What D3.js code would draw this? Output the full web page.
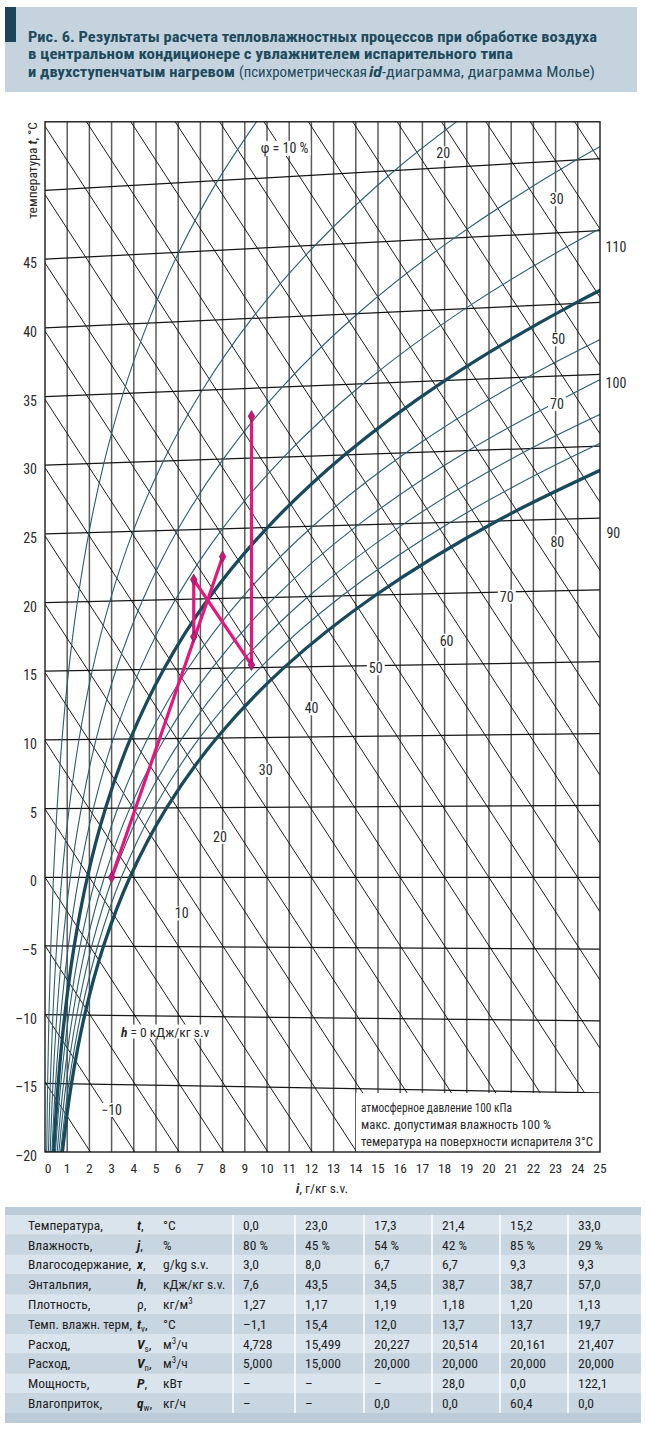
<!DOCTYPE html>
<html><head><meta charset="utf-8">
<script src="https://cdn.jsdelivr.net/npm/d3@7"></script>
<style>
body{margin:0;background:#fff;}
svg{display:block;}
text{font-family:"Liberation Sans Narrow","Roboto Condensed","Arial Narrow","DejaVu Sans Condensed",sans-serif;}
</style></head><body>
<svg id="c" width="646" height="1430"></svg>
<script>
// ---------------- data ----------------
const xTicks = [0,1,2,3,4,5,6,7,8,9,10,11,12,13,14,15,16,17,18,19,20,21,22,23,24,25];
const tTicks = [45,40,35,30,25,20,15,10,5,0,-5,-10,-15,-20];
const isotherms = [-20,-15,-10,-5,0,5,10,15,20,25,30,35,40,45,50];
const enthalpies = [-20,-15,-10,-5,0,5,10,15,20,25,30,35,40,45,50,55,60,65,70,75,80,85,90,95,100,105,110,115];
// relative-humidity curves: moisture content x (g/kg) read at t = -20 … 55 °C
const phiTemps = [-20,-15,-10,-5,0,5,10,15,20,25,30,35,40,45,50,55];
const phi10  = [0.078,0.119,0.178,0.262,0.380,0.543,0.765,1.063,1.458,1.978,2.653,3.521,4.627,6.026,7.778,9.96];
const phi20  = [0.156,0.238,0.356,0.525,0.761,1.087,1.532,2.129,2.924,3.968,5.328,7.082,9.324,12.17,15.75,20.25];
const phi30  = [0.234,0.357,0.535,0.788,1.143,1.633,2.300,3.199,4.396,5.972,8.027,10.68,14.09,18.43,23.93,30.87];
const phi40  = [0.312,0.476,0.713,1.051,1.524,2.179,3.071,4.273,5.875,7.988,10.75,14.33,18.93,24.82,32.33];
const phi50  = [0.390,0.595,0.892,1.314,1.907,2.726,3.843,5.350,7.361,10.02,13.49,18.01,23.85,31.34];
const phi60  = [0.468,0.714,1.070,1.577,2.289,3.274,4.618,6.432,8.854,12.06,16.26,21.74,28.84];
const phi70  = [0.547,0.834,1.249,1.841,2.673,3.823,5.394,7.516,10.35,14.11,19.06,25.51];
const phi80  = [0.625,0.953,1.428,2.105,3.056,4.373,6.172,8.605,11.86,16.18,21.88,29.33];
const phi90  = [0.703,1.072,1.607,2.369,3.440,4.923,6.952,9.698,13.38,18.27,24.72,33.19];
const phi100 = [0.781,1.192,1.786,2.633,3.825,5.475,7.734,10.79,14.90,20.36,27.59];
const phiLevels = [10,20,30,40,50,60,70,80,90,100];
const phiCurves = [phi10,phi20,phi30,phi40,phi50,phi60,phi70,phi80,phi90,phi100];
// process states
const procX = [3.0, 8.0, 6.7, 6.7, 9.3, 9.3];
const procT = [0.0, 23.0, 17.3, 21.4, 15.2, 33.0];
// table
const rowNames = ["Температура,","Влажность,","Влагосодержание,","Энтальпия,","Плотность,","Темп. влажн. терм,","Расход,","Расход,","Мощность,","Влагоприток,"];
const rowSym   = ["t","j","x","h","ρ","t","V","V","P","q"];
const rowSub   = ["","","","","","v","s","n","","w"];
const rowUnit  = ["°C","%","g/kg s.v.","кДж/кг s.v.","кг/м|3","°C","м|3/ч","м|3/ч","кВт","кг/ч"];
const valTemp  = ["0,0","23,0","17,3","21,4","15,2","33,0"];
const valHum   = ["80 %","45 %","54 %","42 %","85 %","29 %"];
const valX     = ["3,0","8,0","6,7","6,7","9,3","9,3"];
const valH     = ["7,6","43,5","34,5","38,7","38,7","57,0"];
const valRho   = ["1,27","1,17","1,19","1,18","1,20","1,13"];
const valTw    = ["–1,1","15,4","12,0","13,7","13,7","19,7"];
const valVs    = ["4,728","15,499","20,227","20,514","20,161","21,407"];
const valVn    = ["5,000","15,000","20,000","20,000","20,000","20,000"];
const valP     = ["–","–","–","28,0","0,0","122,1"];
const valQw    = ["–","–","0,0","0,0","60,4","0,0"];
const tableVals = [valTemp,valHum,valX,valH,valRho,valTw,valVs,valVn,valP,valQw];

// ---------------- layout ----------------
const svg = d3.select('#c');
const L=45,R=600,T=121.8,B=1152;
const xs = d3.scaleLinear().domain([0,25]).range([L,R]);
const ys = d3.scaleLinear().domain([-20.12,55.33]).range([B,T]);
// Mollier skew coordinate (kJ/kg) of a state (t, x)
const skew = (t,x) => 1.006*t + 0.00186*t*x;
const HV = 2.501;
const txt = '#2a2a2a';

// title banner
svg.append('rect').attr('x',5).attr('y',7).attr('width',632).attr('height',85).attr('fill','#c5d3de');
svg.append('rect').attr('x',5).attr('y',7).attr('width',11).attr('height',35).attr('fill','#1c4658');
const tcol = '#1e4a5d';
function tline(y, parts){
  const t = svg.append('text').attr('y',y).attr('font-size',15).attr('fill',tcol);
  parts.forEach(p=>{
    const s=t.append('tspan').text(p.t);
    if(p.x!==undefined) s.attr('x',p.x);
    if(p.len) s.attr('textLength',p.len).attr('lengthAdjust','spacingAndGlyphs');
    if(p.b) s.attr('font-weight','bold');
    if(p.i) s.attr('font-style','italic');
  });
}
tline(42,[{t:'Рис. 6. Результаты расчета тепловлажностных процессов при обработке воздуха',x:28,len:569,b:1}]);
tline(59,[{t:'в центральном кондиционере с увлажнителем испарительного типа',x:28,len:485,b:1}]);
tline(77,[{t:'и двухступенчатым нагревом',x:28,len:207,b:1},{t:'(психрометрическая',x:239,len:128},{t:'id',x:369,len:13,b:1,i:1},{t:'-диаграмма, диаграмма Молье)',x:382,len:213}]);

// clip
svg.append('clipPath').attr('id','clip').append('rect').attr('x',L).attr('y',T).attr('width',R-L).attr('height',B-T);
const g = svg.append('g').attr('clip-path','url(#clip)');

// vertical grid (moisture content)
g.selectAll('.vx').data(xTicks.slice(1,-1)).join('line')
  .attr('x1',d=>xs(d)).attr('x2',d=>xs(d)).attr('y1',T).attr('y2',B)
  .attr('stroke','#5c5c5c').attr('stroke-width',1.5);
// isotherms
g.selectAll('.it').data(isotherms).join('line')
  .attr('x1',xs(0)).attr('y1',d=>ys(skew(d,0))).attr('x2',xs(25)).attr('y2',d=>ys(skew(d,25)))
  .attr('stroke','#161616').attr('stroke-width',1.25);
// isenthalps
g.selectAll('.ih').data(enthalpies).join('line')
  .attr('x1',xs(0)).attr('y1',d=>ys(d)).attr('x2',xs(25)).attr('y2',d=>ys(d-HV*25))
  .attr('stroke','#111').attr('stroke-width',0.95);
// relative humidity curves
const lineGen = d3.line().curve(d3.curveCatmullRom.alpha(0.5));
phiCurves.forEach((arr,k)=>{
  const pts = arr.map((x,i)=>[xs(x), ys(skew(phiTemps[i],x))]);
  const thick = phiLevels[k]===50 || phiLevels[k]===100;
  g.append('path').attr('d',lineGen(pts)).attr('fill','none')
   .attr('stroke', thick ? '#194a5c' : '#2b5f70').attr('stroke-width', thick ? 3.3 : 1.1);
});

// note box
svg.append('rect').attr('x',356).attr('y',1093).attr('width',R-356).attr('height',B-1093).attr('fill','#fff');
const notes = ['атмосферное давление 100 кПа','макс. допустимая влажность 100 %','темература на поверхности испарителя 3°C'];
const noteLen = [151,190,232];
notes.forEach((s,i)=>svg.append('text').attr('x',361).attr('y',1112+i*17.2).attr('font-size',13).attr('fill',txt)
  .attr('textLength',noteLen[i]).attr('lengthAdjust','spacingAndGlyphs').text(s));

// frame
svg.append('rect').attr('x',L).attr('y',T).attr('width',R-L).attr('height',B-T).attr('fill','none').attr('stroke','#1a1a1a').attr('stroke-width',1.4);

// in-chart labels (with white backing)
const lg = svg.append('g');
function addLabel(x,y,parts,bg=true,size=14){
  const gg = lg.append('g');
  const t = gg.append('text').attr('x',xs(x)).attr('y',ys(y)).attr('text-anchor','middle').attr('dy','0.36em')
    .attr('font-size',size).attr('fill',txt);
  parts.forEach(p=>{const s=t.append('tspan').text(p.t); if(p.b) s.attr('font-weight','bold'); if(p.i) s.attr('font-style','italic');});
  if(bg){const bb=t.node().getBBox(); gg.insert('rect','text').attr('x',bb.x-2).attr('y',bb.y+1).attr('width',bb.width+4).attr('height',bb.height-2).attr('fill','#fff');}
}
// φ labels
addLabel(10.79,53.42,[{t:'φ = 10 %'}]);
addLabel(17.94,53.02,[{t:'20'}]);
addLabel(23.05,49.66,[{t:'30'}]);
addLabel(23.12,39.40,[{t:'50'}]);
addLabel(23.06,34.66,[{t:'70'}]);
// enthalpy labels
addLabel(23.08,24.58,[{t:'80'}]);
addLabel(20.80,20.55,[{t:'70'}]);
addLabel(18.09,17.33,[{t:'60'}]);
addLabel(14.90,15.31,[{t:'50'}]);
addLabel(12.01,12.38,[{t:'40'}]);
addLabel(9.94,7.86,[{t:'30'}]);
addLabel(7.88,2.97,[{t:'20'}]);
addLabel(6.16,-2.64,[{t:'10'}]);
addLabel(3.00,-17.04,[{t:'−10'}]);
addLabel(5.41,-11.31,[{t:'h',b:1,i:1},{t:' = 0 кДж/кг s.v'}],true,13.5);
addLabel(25.72,46.18,[{t:'110'}],false);
addLabel(25.72,36.22,[{t:'100'}],false);
addLabel(25.60,25.19,[{t:'90'}],false);

// axes labels
svg.selectAll('.yt').data(tTicks).join('text')
  .attr('x',37).attr('y',d=>ys(skew(d,0))+4).attr('dy','0.36em').attr('text-anchor','end')
  .attr('font-size',14).attr('fill',txt).text(d=>d<0?'–'+(-d):d);
svg.selectAll('.xt').data(xTicks).join('text')
  .attr('x',d=>xs(d)+(d===0?3:0)).attr('y',1168).attr('dy','0.36em').attr('text-anchor','middle')
  .attr('font-size',13.5).attr('fill',txt).text(d=>d);
const yt = svg.append('text').attr('transform','translate(37,122) rotate(-90)').attr('text-anchor','end')
  .attr('font-size',13.5).attr('fill',txt);
yt.append('tspan').text('температура ');
yt.append('tspan').text('t').attr('font-weight','bold').attr('font-style','italic');
yt.append('tspan').text(', °C');
const xt = svg.append('text').attr('x',322).attr('y',1188).attr('dy','0.36em').attr('text-anchor','middle').attr('font-size',13.5).attr('fill',txt);
xt.append('tspan').text('i').attr('font-weight','bold').attr('font-style','italic');
xt.append('tspan').text(', г/кг s.v.');

// process
const P = procX.map((x,i)=>[xs(x), ys(skew(procT[i],x))]);
const pl = d3.line();
const pg = svg.append('g');
[[0,1],[2,3,4,5]].forEach(seq=>{
  pg.append('path').attr('d',pl(seq.map(i=>P[i]))).attr('fill','none').attr('stroke','#e3177f')
    .attr('stroke-width',3.2).attr('stroke-linejoin','round').attr('stroke-linecap','round');
});
pg.selectAll('path.m').data(P).join('path').attr('class','m')
  .attr('transform',d=>`translate(${d[0]},${d[1]})`)
  .attr('d',d3.symbol(d3.symbolDiamond).size(36))
  .attr('fill','#d0157a').attr('stroke','#7d1c55').attr('stroke-width',0.8);

// table
const tY0 = 1207, rowH = 19.8, rowTop = 1215;
svg.append('rect').attr('x',5).attr('y',tY0).attr('width',636).attr('height',216).attr('fill','#bccbd8');
rowNames.forEach((n,i)=>{
  svg.append('rect').attr('x',5).attr('y',rowTop+i*rowH).attr('width',636).attr('height',rowH)
    .attr('fill', i%2===0 ? '#dae4ec' : '#c8d6e1');
});
const seps = [233,295,364,432,500,568];
seps.forEach(s=>svg.append('line').attr('x1',s).attr('x2',s).attr('y1',rowTop).attr('y2',rowTop+10*rowH).attr('stroke','#fff').attr('stroke-width',1.5));
const tcolT = '#1f1f1f';
const fs = 13.5;
rowNames.forEach((n,i)=>{
  const cy = rowTop + i*rowH + rowH/2;
  const nt = svg.append('text').attr('x',28).attr('y',cy).attr('dy','0.36em').attr('font-size',fs).attr('fill',tcolT).text(n);
  if(nt.node().getComputedTextLength() > 104) nt.attr('textLength',104).attr('lengthAdjust','spacingAndGlyphs');
  const st = svg.append('text').attr('x',137).attr('y',cy).attr('dy','0.36em').attr('font-size',fs).attr('fill',tcolT);
  const sy = st.append('tspan').text(rowSym[i]);
  if(rowSym[i]!=='ρ') sy.attr('font-weight','bold').attr('font-style','italic');
  if(rowSub[i]) st.append('tspan').text(rowSub[i]).attr('font-size',9).attr('dy','3');
  st.append('tspan').text(',').attr('dy',rowSub[i]?'-3':null);
  const ut = svg.append('text').attr('x',163).attr('y',cy).attr('dy','0.36em').attr('font-size',fs).attr('fill',tcolT);
  const up = rowUnit[i].split('|');
  ut.append('tspan').text(up[0]);
  if(up.length>1){
    const rest = up[1];
    ut.append('tspan').text(rest[0]).attr('font-size',9).attr('dy','-5');
    if(rest.length>1) ut.append('tspan').text(rest.slice(1)).attr('dy','5');
  }
  tableVals[i].forEach((v,j)=>{
    svg.append('text').attr('x',seps[j]+10).attr('y',cy).attr('dy','0.36em').attr('font-size',fs).attr('fill',tcolT).text(v);
  });
});
</script>
</body></html>
